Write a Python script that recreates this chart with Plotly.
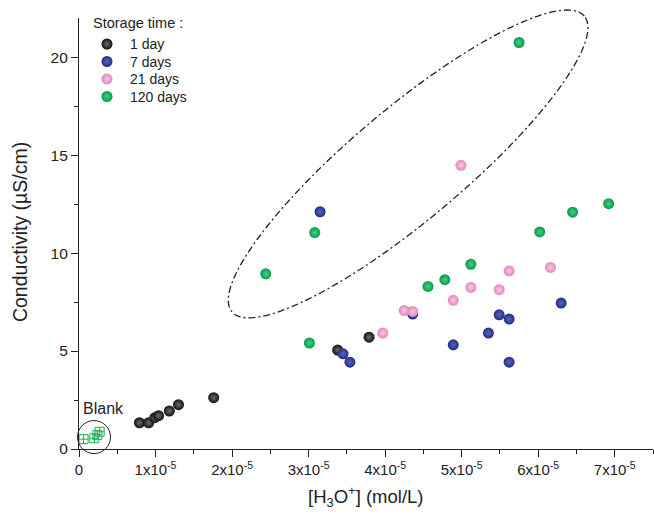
import numpy as np
import plotly.graph_objects as go

# Conductivity vs hydronium concentration for several storage times
day1_h3o = [0.79e-5, 0.91e-5, 0.99e-5, 1.04e-5, 1.18e-5, 1.30e-5, 1.76e-5, 3.38e-5, 3.79e-5]
day1_cond = [1.34, 1.34, 1.60, 1.70, 1.94, 2.26, 2.62, 5.05, 5.71]

day7_h3o = [3.15e-5, 3.45e-5, 3.54e-5, 4.36e-5, 4.89e-5, 5.35e-5, 5.49e-5, 5.62e-5, 5.62e-5, 6.30e-5]
day7_cond = [12.11, 4.86, 4.43, 6.89, 5.32, 5.92, 6.85, 6.63, 4.43, 7.45]

day21_h3o = [3.97e-5, 4.25e-5, 4.36e-5, 4.89e-5, 4.99e-5, 5.12e-5, 5.49e-5, 5.62e-5, 6.16e-5]
day21_cond = [5.92, 7.07, 7.02, 7.59, 14.48, 8.25, 8.13, 9.09, 9.27]

day120_h3o = [2.44e-5, 3.01e-5, 3.08e-5, 4.56e-5, 4.78e-5, 5.12e-5, 5.75e-5, 6.02e-5, 6.45e-5, 6.92e-5]
day120_cond = [8.94, 5.41, 11.05, 8.30, 8.64, 9.43, 20.75, 11.08, 12.09, 12.52]

blank_h3o = [0.06e-5, 0.20e-5, 0.24e-5, 0.27e-5]
blank_cond = [0.50, 0.55, 0.72, 0.88]

series_names = ["1 day", "7 days", "21 days", "120 days"]
x_tickvals = [0, 1e-5, 2e-5, 3e-5, 4e-5, 5e-5, 6e-5, 7e-5]
x_ticktext = ["0"] + [f"{k}x10<sup>-5</sup>" for k in range(1, 8)]
y_tickvals = [0, 5, 10, 15, 20]

X_RANGE = [0, 7.5e-5]
Y_RANGE = [0, 22.0]

W, H = 654, 515
M = dict(l=79, r=1, t=18, b=66)
plot_w = W - M["l"] - M["r"]
plot_h = H - M["t"] - M["b"]

FONT = "Liberation Sans, Arial, sans-serif"
INK = "#222222"

series = [
    (series_names[0], day1_h3o, day1_cond, "#111111", "#6e6e6e"),
    (series_names[1], day7_h3o, day7_cond, "#232c86", "#5b64bd"),
    (series_names[2], day21_h3o, day21_cond, "#e487bc", "#f7c9e3"),
    (series_names[3], day120_h3o, day120_cond, "#009e48", "#4fcb86"),
]

fig = go.Figure()

for name, xs, ys, base, light in series:
    fig.add_trace(go.Scatter(
        x=xs, y=ys, mode="markers", name=name, showlegend=False,
        marker=dict(size=11, color=base, line=dict(width=0),
                    gradient=dict(type="radial", color=light)),
    ))

# blank samples
fig.add_trace(go.Scatter(
    x=blank_h3o, y=blank_cond, mode="markers", showlegend=False,
    marker=dict(symbol="square-cross-open", size=9, color="#1db04d",
                line=dict(width=1, color="#1db04d")),
    cliponaxis=False,
))

# circle around the blanks
fig.add_trace(go.Scatter(
    x=[0.196e-5], y=[0.61], mode="markers", showlegend=False,
    marker=dict(symbol="circle-open", size=33, color=INK,
                line=dict(width=1, color=INK)),
    cliponaxis=False, hoverinfo="skip",
))

fig.add_annotation(x=0.02e-5, y=2.09, xref="x", yref="y", text="Blank",
                   showarrow=False, xanchor="left", yanchor="middle",
                   font=dict(family=FONT, size=16, color=INK))

# dash-dot ellipse around the high-conductivity group (pixel-sized axes, data-placed centre)
ell_cx, ell_cy = 4.30e-5, 14.55
ell_a, ell_b, ell_theta = 230.0, 56.0, np.deg2rad(40.0)
t = np.linspace(0, 2 * np.pi, 200)
ex = ell_a * np.cos(t)
ey = ell_b * np.sin(t)
dx = ex * np.cos(ell_theta) - ey * np.sin(ell_theta)
dy = ex * np.sin(ell_theta) + ey * np.cos(ell_theta)
cxp = (ell_cx - X_RANGE[0]) / (X_RANGE[1] - X_RANGE[0])
cyp = (ell_cy - Y_RANGE[0]) / (Y_RANGE[1] - Y_RANGE[0])
px = cxp + dx / plot_w
py = cyp + dy / plot_h
path = "M " + " L ".join(f"{a:.5f},{b:.5f}" for a, b in zip(px, py)) + " Z"
fig.add_shape(type="path", path=path, xref="paper", yref="paper",
              line=dict(color=INK, width=1.3, dash="7px,3px,2px,3px"))

# legend block drawn on a hidden pixel-scaled overlay axis
leg_marker_x, leg_text_x = 107, 128
leg_rows = [44, 61.5, 79, 96.5]
for (name, _, _, base, light), row in zip(series, leg_rows):
    fig.add_trace(go.Scatter(
        x=[leg_marker_x], y=[row], xaxis="x2", yaxis="y2", mode="markers",
        showlegend=False, hoverinfo="skip",
        marker=dict(size=11, color=base, line=dict(width=0),
                    gradient=dict(type="radial", color=light)),
    ))
    fig.add_annotation(x=leg_text_x, y=row, xref="x2", yref="y2", text=name,
                       showarrow=False, xanchor="left", yanchor="middle",
                       font=dict(family=FONT, size=14, color=INK))
fig.add_annotation(x=91, y=23, xref="x2", yref="y2", text="Storage time :",
                   showarrow=False, xanchor="left", yanchor="middle",
                   font=dict(family=FONT, size=14.5, color=INK))

axis_common = dict(
    showline=True, linecolor=INK, linewidth=1.2,
    ticks="outside", ticklen=7, tickwidth=1.2, tickcolor=INK,
    showgrid=False, zeroline=False,
)

fig.update_xaxes(range=X_RANGE, tickmode="array", tickvals=x_tickvals, ticktext=x_ticktext,
                 tickfont=dict(family=FONT, size=15, color=INK),
                 minor=dict(tickmode="array", tickvals=[k * 1e-5 + 0.5e-5 for k in range(8)],
                            ticks="outside", ticklen=4, tickwidth=1.2, tickcolor=INK),
                 **axis_common)
fig.update_yaxes(range=Y_RANGE, tickmode="array", tickvals=y_tickvals,
                 tickfont=dict(family=FONT, size=15.5, color=INK),
                 minor=dict(tickmode="array", tickvals=[2.5, 7.5, 12.5, 17.5],
                            ticks="outside", ticklen=4, tickwidth=1.2, tickcolor=INK),
                 **axis_common)

# axis titles
fig.add_annotation(x=0.5, y=-0.111, xref="paper", yref="paper",
                   text="[H<sub>3</sub>O<sup>+</sup>] (mol/L)", showarrow=False,
                   xanchor="center", yanchor="middle",
                   font=dict(family=FONT, size=18.5, color=INK))
fig.add_annotation(x=-0.103, y=0.503, xref="paper", yref="paper",
                   text="Conductivity (µS/cm)", showarrow=False, textangle=-90,
                   xanchor="center", yanchor="middle",
                   font=dict(family=FONT, size=19.5, color=INK))

fig.update_layout(
    width=W, height=H, margin=M,
    plot_bgcolor="white", paper_bgcolor="white",
    font=dict(family=FONT, color=INK),
    showlegend=False,
    xaxis2=dict(overlaying="x", range=[M["l"], W - M["r"]], visible=False),
    yaxis2=dict(overlaying="y", range=[H - M["b"], M["t"]], visible=False),
)

fig.write_html("out.html")
